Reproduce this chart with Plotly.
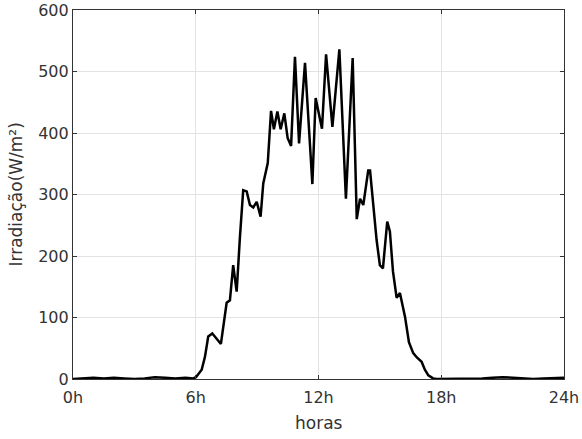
import plotly.graph_objects as go

hours = [0, 0.5, 1, 1.5, 2, 2.5, 3, 3.5, 4, 4.5, 5, 5.5, 5.87, 6.01, 6.29, 6.45, 6.61, 6.81,
         7.02, 7.23, 7.51, 7.67, 7.83, 8.00, 8.16, 8.32, 8.49, 8.65, 8.81, 8.98, 9.17,
         9.30, 9.52, 9.68, 9.82, 9.99, 10.15, 10.33, 10.49, 10.66, 10.85, 11.05, 11.34,
         11.70, 11.86, 12.17, 12.37, 12.68, 13.02, 13.34, 13.67, 13.87, 14.03, 14.19,
         14.43, 14.52, 14.84, 15.00, 15.15, 15.36, 15.49, 15.64, 15.82, 15.98, 16.23,
         16.42, 16.63, 16.81, 17.04, 17.20, 17.37, 17.60, 17.78, 18.5, 19, 19.5, 20,
         20.5, 21, 21.5, 22, 22.5, 23, 23.5, 24]
irradiance = [0, 1, 2, 1, 2, 1, 0, 1, 3, 2, 1, 2, 1, 3, 15, 36, 69, 74,
              66, 57, 124, 128, 185, 142, 231, 307, 305, 283, 279, 288, 264,
              318, 351, 436, 406, 435, 406, 432, 392, 379, 524, 383, 514,
              317, 457, 407, 528, 410, 536, 293, 522, 260, 293, 283,
              339, 339, 226, 185, 180, 256, 240, 175, 132, 140, 101,
              60, 42, 35, 28, 15, 6, 1, 0, 0, 1, 1, 1,
              2, 3, 2, 1, 0, 1, 1, 2]

tick_vals = [0, 6, 12, 18, 24]
tick_text = ["0h", "6h", "12h", "18h", "24h"]
y_ticks = [0, 100, 200, 300, 400, 500, 600]

fig = go.Figure()
fig.add_trace(go.Scatter(x=hours, y=irradiance, mode="lines",
                         line=dict(color="black", width=2.5)))

font = dict(family="DejaVu Sans", size=16, color="#333333")
title_font = dict(family="DejaVu Sans", size=17, color="#333333")
fig.update_layout(
    width=582, height=439,
    margin=dict(l=73, r=18, t=10, b=60),
    plot_bgcolor="white", paper_bgcolor="white",
    showlegend=False,
    font=font,
    xaxis=dict(range=[0, 24], tickvals=tick_vals, ticktext=tick_text,
               showgrid=True, gridcolor="#e3e3e3", gridwidth=1, automargin=False,
               zeroline=False, showline=True, linecolor="#333333", linewidth=1.2,
               mirror="ticks", ticks="inside", ticklen=4, tickcolor="#333333",
               ticklabelstandoff=4, tickfont=font),
    yaxis=dict(range=[0, 600], tickvals=y_ticks,
               showgrid=True, gridcolor="#e3e3e3", gridwidth=1, automargin=False,
               zeroline=False, showline=True, linecolor="#333333", linewidth=1.2,
               mirror="ticks", ticks="inside", ticklen=4, tickcolor="#333333",
               tickfont=font),
    annotations=[
        dict(text="horas", xref="paper", yref="paper", x=0.5, y=-0.119,
             xanchor="center", yanchor="middle", showarrow=False, font=title_font),
        dict(text="Irradiação(W/m²)", xref="paper", yref="paper", x=-0.118,
             y=0.5, xanchor="center", yanchor="middle", textangle=-90,
             showarrow=False, font=title_font),
    ],
)

fig.write_html("out.html", config={"displayModeBar": False},
               post_script="document.body.style.margin='0';document.body.style.padding='0';")
